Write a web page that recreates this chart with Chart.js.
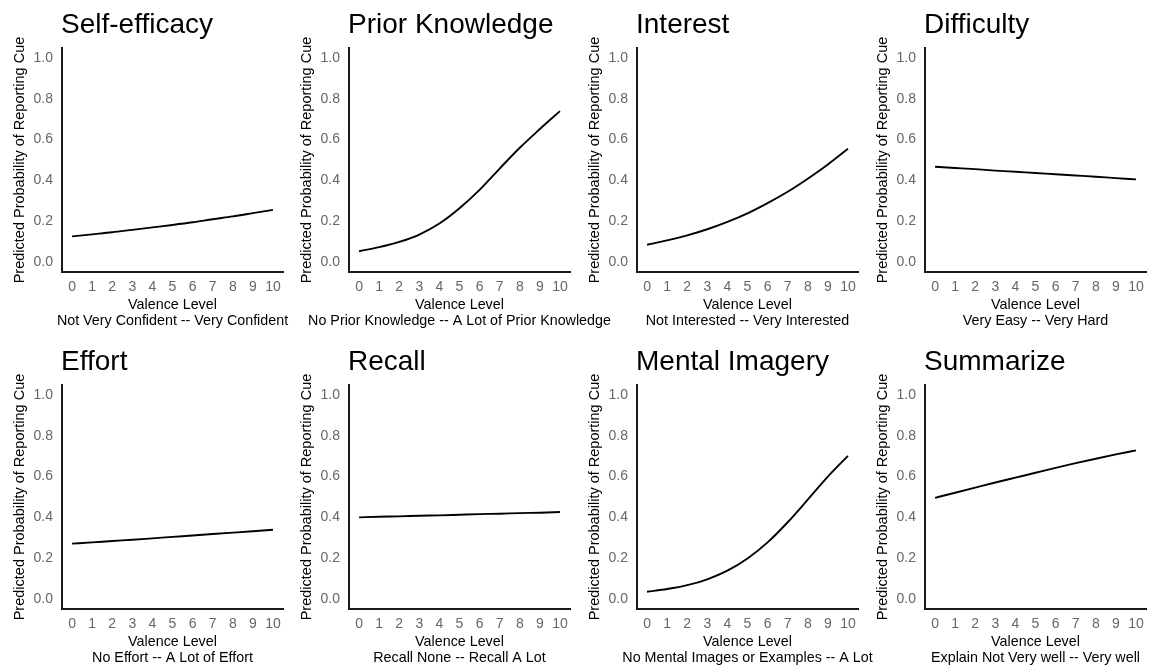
<!DOCTYPE html>
<html>
<head>
<meta charset="utf-8">
<script src="https://cdn.jsdelivr.net/npm/chart.js@4/dist/chart.umd.min.js"></script>
<style>
  html, body { margin: 0; padding: 0; background: #fff; overflow: hidden; }
  #wrap { position: relative; width: 1149px; height: 666px; overflow: hidden; }
  #wrap canvas { position: absolute; }
</style>
</head>
<body>
<div id="wrap"></div>
<script>
/* DATA */
var levels = [0, 1, 2, 3, 4, 5, 6, 7, 8, 9, 10];
var yTicks = [0, 0.2, 0.4, 0.6, 0.8, 1.0];

var panelTitles = ["Self-efficacy", "Prior Knowledge", "Interest", "Difficulty",
                   "Effort", "Recall", "Mental Imagery", "Summarize"];
var subtitles = ["Not Very Confident -- Very Confident",
                 "No Prior Knowledge -- A Lot of Prior Knowledge",
                 "Not Interested -- Very Interested",
                 "Very Easy -- Very Hard",
                 "No Effort -- A Lot of Effort",
                 "Recall None -- Recall A Lot",
                 "No Mental Images or Examples -- A Lot",
                 "Explain Not Very well -- Very well"];

var selfEfficacy   = [0.125, 0.135, 0.145, 0.157, 0.169, 0.181, 0.194, 0.209, 0.223, 0.239, 0.255];
var priorKnowledge = [0.052, 0.072, 0.098, 0.134, 0.188, 0.263, 0.353, 0.458, 0.560, 0.652, 0.740];
var interest       = [0.084, 0.105, 0.130, 0.160, 0.196, 0.238, 0.288, 0.344, 0.408, 0.478, 0.555];
var difficulty     = [0.467, 0.461, 0.455, 0.448, 0.442, 0.436, 0.430, 0.424, 0.418, 0.411, 0.405];
var effort         = [0.271, 0.277, 0.284, 0.290, 0.297, 0.304, 0.311, 0.318, 0.325, 0.332, 0.339];
var recall         = [0.400, 0.403, 0.405, 0.408, 0.410, 0.413, 0.416, 0.418, 0.421, 0.423, 0.426];
var mentalImagery  = [0.035, 0.048, 0.067, 0.096, 0.138, 0.198, 0.277, 0.376, 0.487, 0.600, 0.702];
var summarize      = [0.496, 0.521, 0.546, 0.571, 0.595, 0.619, 0.643, 0.666, 0.688, 0.709, 0.729];

var series = [selfEfficacy, priorKnowledge, interest, difficulty,
              effort, recall, mentalImagery, summarize];

/* LAYOUT */
var FONT = '"Liberation Sans", Arial, Helvetica, sans-serif';
var axisX = [62, 349, 637, 925];   // left edge of each panel's plot area
var rowTop = [0, 337];
var yAxisW = 100, plotW = 221, padRight = 60;
var canvasW = yAxisW + plotW + padRight, canvasH = 329;
var plotTop = 48, plotBottom = 272;

// panel title + x axis titles (drawn here so long subtitles are not squeezed)
var panelText = {
  id: 'panelText',
  afterDraw: function (chart, args, opts) {
    var ctx = chart.ctx;
    var a = chart.chartArea;
    var cx = (a.left + a.right) / 2;
    ctx.save();
    ctx.fillStyle = '#000';
    ctx.textAlign = 'left';
    ctx.textBaseline = 'alphabetic';
    ctx.font = '28px ' + FONT;
    ctx.fillText(opts.title, a.left - 1, 33);
    ctx.font = '14.3px ' + FONT;
    ctx.textAlign = 'center';
    ctx.textBaseline = 'middle';
    ctx.fillText('Valence Level', cx, 305);
    ctx.fillText(opts.subtitle, cx, 321);
    ctx.restore();
  }
};

var wrap = document.getElementById('wrap');

for (var i = 0; i < series.length; i++) {
  var col = i % 4, row = Math.floor(i / 4);
  var cv = document.createElement('canvas');
  cv.width = canvasW;
  cv.height = canvasH;
  cv.style.left = (axisX[col] - yAxisW) + 'px';
  cv.style.top = rowTop[row] + 'px';
  wrap.appendChild(cv);

  var pts = [];
  for (var k = 0; k < levels.length; k++) {
    pts.push({ x: levels[k], y: series[i][k] });
  }

  new Chart(cv, {
    type: 'line',
    data: {
      datasets: [{
        data: pts,
        borderColor: '#000',
        borderWidth: 1.9,
        pointRadius: 0,
        fill: false,
        cubicInterpolationMode: 'monotone'
      }]
    },
    plugins: [panelText],
    options: {
      responsive: false,
      animation: false,
      events: [],
      layout: { padding: { top: plotTop, left: 0, right: padRight, bottom: 0 } },
      plugins: {
        legend: { display: false },
        tooltip: { enabled: false },
        panelText: { title: panelTitles[i], subtitle: subtitles[i] }
      },
      scales: {
        x: {
          type: 'linear',
          min: -0.5,
          max: 10.5,
          afterBuildTicks: function (s) {
            s.ticks = levels.map(function (v) { return { value: v }; });
          },
          afterFit: function (s) { s.height = canvasH - plotBottom; },
          grid: { display: false, drawTicks: false },
          border: { display: true, color: '#1a1a1a', width: 2 },
          ticks: {
            color: '#666',
            padding: 7,
            maxRotation: 0,
            autoSkip: false,
            font: { family: FONT, size: 14 },
            callback: function (v) { return String(v); }
          }
        },
        y: {
          type: 'linear',
          min: -0.05,
          max: 1.05,
          afterBuildTicks: function (s) {
            s.ticks = yTicks.map(function (v) { return { value: v }; });
          },
          afterFit: function (s) { s.width = yAxisW; },
          grid: { display: false, drawTicks: false },
          border: { display: true, color: '#1a1a1a', width: 2 },
          ticks: {
            color: '#666',
            padding: 9,
            font: { family: FONT, size: 14 },
            callback: function (v) { return Number(v).toFixed(1); }
          },
          title: {
            display: true,
            text: 'Predicted Probability of Reporting Cue',
            color: '#000',
            font: { family: FONT, size: 14.5 },
            padding: { top: 49, bottom: 0 }
          }
        }
      }
    }
  });
}
</script>
</body>
</html>
